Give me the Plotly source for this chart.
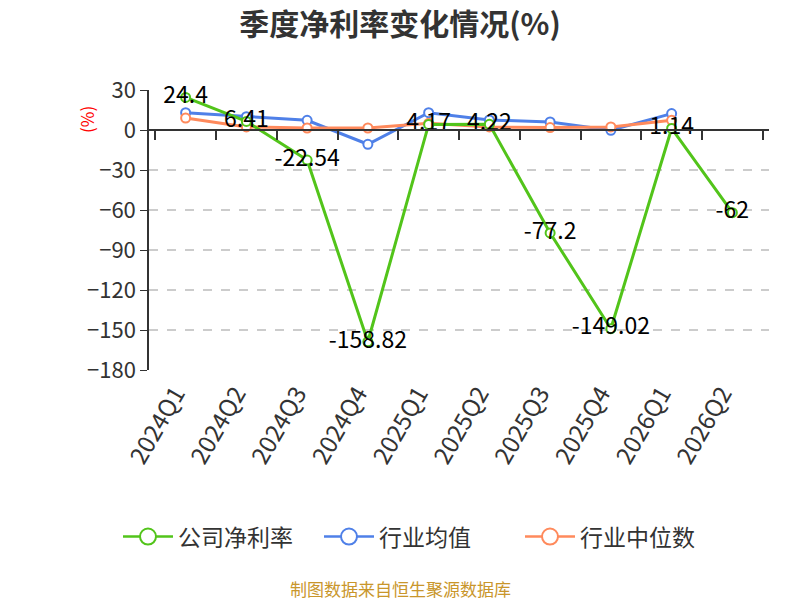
import plotly.graph_objects as go

categories = ["2024Q1", "2024Q2", "2024Q3", "2024Q4", "2025Q1", "2025Q2",
              "2025Q3", "2025Q4", "2026Q1", "2026Q2"]
company = [24.4, 6.41, -22.54, -158.82, 4.17, 4.22, -77.2, -149.02, 1.14, -62]
industry_avg = [13, 10, 7.3, -10.7, 13, 7.5, 6, -0.2, 12.3, None]
industry_median = [9, 2.3, 1.5, 1.5, 5, 2.3, 1.8, 2.3, 7.3, None]
y_ticks = [30, 0, -30, -60, -90, -120, -150, -180]

GREEN = "#52c41a"
BLUE = "#4f80e8"
ORANGE = "#ff8a5c"
FONT = "Noto Sans CJK SC"

fig = go.Figure()

def add_series(name, vals, color, labels=False):
    fig.add_trace(go.Scatter(
        x=categories, y=vals, name=name,
        mode="lines+markers+text" if labels else "lines+markers",
        line=dict(color=color, width=3),
        marker=dict(size=9, color="white", line=dict(color=color, width=2)),
        text=[str(v) for v in vals] if labels else None,
        textposition="middle center",
        textfont=dict(size=23, color="#000000", family=FONT),
        cliponaxis=False,
        connectgaps=False,
        showlegend=False,
    ))

add_series("行业均值", industry_avg, BLUE)
add_series("行业中位数", industry_median, ORANGE)
add_series("公司净利率", company, GREEN, labels=True)

# legend entries with large open-circle symbols
for name, color in [("公司净利率", GREEN), ("行业均值", BLUE), ("行业中位数", ORANGE)]:
    fig.add_trace(go.Scatter(
        x=[None], y=[None], name=name, mode="lines+markers",
        line=dict(color=color, width=2.5),
        marker=dict(size=18, color="white", line=dict(color=color, width=2)),
        showlegend=True, hoverinfo="skip"))

y_min, y_max = -180, 30
zero_pos = (0 - y_min) / (y_max - y_min)

fig.update_layout(
    width=800, height=600,
    paper_bgcolor="white", plot_bgcolor="white",
    margin=dict(l=149, r=31, t=90, b=230, autoexpand=False),
    font=dict(family=FONT, color="#333333"),
    title=dict(text="<b>季度净利率变化情况(%)</b>", x=0.5, xanchor="center",
               y=0.959, yanchor="middle",
               font=dict(size=30, color="#333333", family=FONT)),
    showlegend=True,
    legend=dict(orientation="h", x=(118 - 149) / 620, xanchor="left",
                y=-0.595, yanchor="middle",
                font=dict(size=23, color="#333333", family=FONT),
                itemwidth=50, itemsizing="trace", traceorder="normal",
                entrywidth=136, entrywidthmode="pixels"),
    xaxis=dict(type="category", categoryorder="array", categoryarray=categories,
               showline=False, ticks="", showgrid=False, zeroline=False,
               automargin=False,
               tickangle=-60, tickfont=dict(size=24, color="#333333", family=FONT),
               ticklabelstandoff=4, ticklabelshift=-10),
    xaxis2=dict(type="category", categoryorder="array", categoryarray=categories,
                overlaying="x", matches="x", anchor="free", position=zero_pos,
                side="bottom", showline=True, linecolor="#333333", linewidth=2,
                ticks="outside", ticklen=9, tickwidth=1.5, tickcolor="#333333",
                tickson="boundaries", showticklabels=False, showgrid=False,
                automargin=False),
    yaxis=dict(range=[y_min, y_max], tickvals=y_ticks,
               showline=True, linecolor="#333333", linewidth=1.5,
               ticks="outside", ticklen=7, tickcolor="#333333",
               showgrid=True, gridcolor="#cccccc", griddash="dash", gridwidth=1.5,
               zeroline=False, automargin=False,
               tickfont=dict(size=22, color="#333333", family=FONT)),
)

# invisible trace to activate xaxis2
fig.add_trace(go.Scatter(x=categories, y=[None] * len(categories), xaxis="x2",
                         showlegend=False, hoverinfo="skip"))

fig.add_annotation(text="(%)", xref="paper", yref="paper", x=-0.1, y=0.893,
                   xanchor="center", yanchor="middle", showarrow=False, textangle=-90,
                   font=dict(size=17, color="red", family=FONT))

fig.add_annotation(text="制图数据来自恒生聚源数据库", xref="paper", yref="paper",
                   x=(400 - 149) / 620, y=-0.78, xanchor="center", yanchor="middle",
                   showarrow=False,
                   font=dict(size=17, color="#c9962b", family=FONT))

fig.write_html("out.html", config={"displayModeBar": False},
               post_script="document.body.style.margin='0px';")
